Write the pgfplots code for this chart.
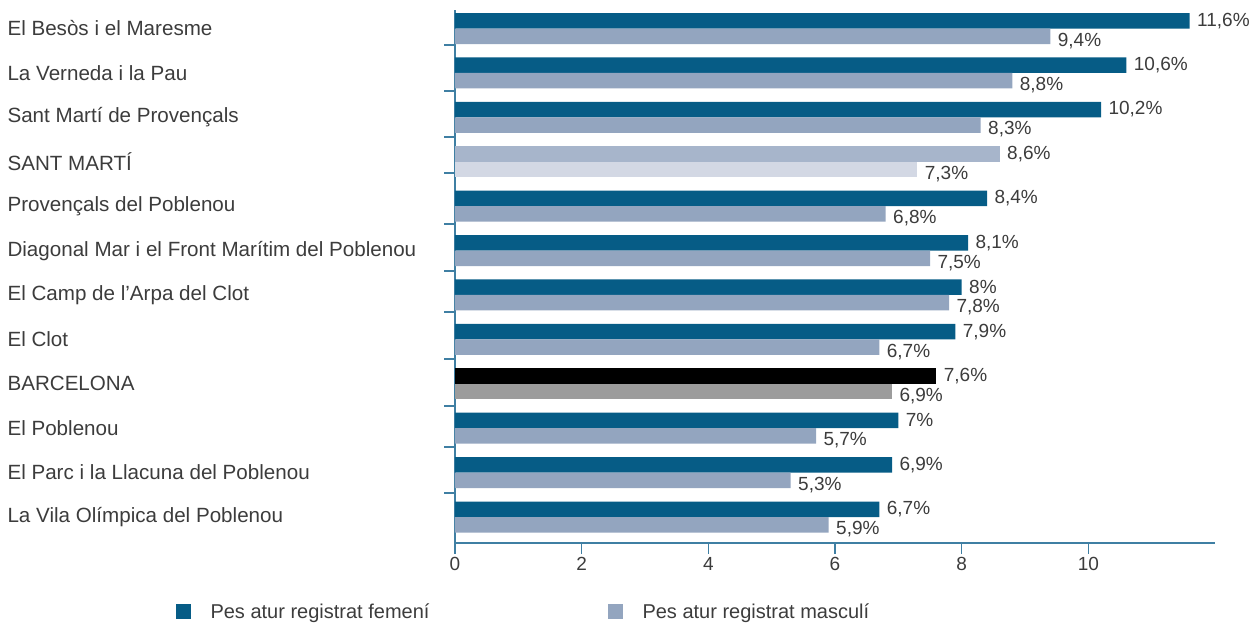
\documentclass[border=0pt]{standalone}
\usepackage{pgfplots}
\pgfplotsset{compat=1.18}
\usepackage{fontspec}
\setmainfont{Liberation Sans}
\definecolor{fem}{HTML}{065C86}
\definecolor{masc}{HTML}{93A5BF}
\definecolor{smfem}{HTML}{A7B5CB}
\definecolor{smmasc}{HTML}{D3D8E4}
\definecolor{bcnmasc}{HTML}{9C9C9C}
\definecolor{axcol}{HTML}{3F7FA3}
\definecolor{txt}{HTML}{3C3C3C}
\begin{document}
\begin{tikzpicture}
\path[use as bounding box] (0,0) rectangle (1258pt,628pt);
\begin{axis}[
  at={(455pt,85pt)}, anchor=south west,
  scale only axis, width=760pt, height=533pt,
  xbar,
  xmin=0, xmax=12, ymin=-0.585, ymax=11.417,
  axis lines*=left,
  axis line style={axcol, line width=1.2pt},
  tick align=outside,
  major tick length=11pt,
  tick style={axcol, line width=1.2pt},
  xtick={0,2,4,6,8,10},
  ytick={10.629,9.593,8.557,7.746,6.597,5.539,4.615,3.557,2.498,1.575,0.539},
  yticklabels={},
  extra y ticks={0,1,2,3,4,5,6,7,8,9,10,11},
  extra y tick labels={La Vila Olímpica del Poblenou, El Parc i la Llacuna del Poblenou, El Poblenou, BARCELONA, El Clot, El Camp de l’Arpa del Clot, Diagonal Mar i el Front Marítim del Poblenou, Provençals del Poblenou, SANT MARTÍ, Sant Martí de Provençals, La Verneda i la Pau, El Besòs i el Maresme},
  extra y tick style={major tick length=0pt, tick style={draw=none}, yticklabel style={anchor=west, xshift=-451pt}},
  ticklabel style={font=\fontsize{20.6}{24}\selectfont, text=txt},
  xticklabel style={font=\fontsize{19}{22}\selectfont, text=txt},
  /pgf/number format/.cd, use comma, 1000 sep={}, assume math mode=true, /pgfplots/.cd,
  bar width=15.5pt,
  point meta=x,
  nodes near coords={\pgfmathprintnumber{\pgfplotspointmeta}\%},
  every node near coord/.append style={font=\fontsize{19}{22}\selectfont, text=txt, anchor=west, xshift=4pt},
  legend columns=2,
  legend style={draw=none, fill=none, at={(-0.368,-0.129)}, anchor=west, inner sep=0pt,
    nodes={inner sep=0pt, font=\fontsize{20}{24}\selectfont, text=txt},
    /tikz/every odd column/.append style={column sep=20pt},
    /tikz/every even column/.append style={column sep=0pt}},
  legend image code/.code={\fill[#1] (0pt,-7.5pt) rectangle (15pt,7.5pt);},
]
\addplot[fill=fem, draw=none, bar shift=7.75pt, every node near coord/.append style={yshift=0pt}] coordinates {
(11.6,11) (10.6,10) (10.2,9) (8.4,7) (8.1,6) (8.0,5) (7.9,4) (7.0,2) (6.9,1) (6.7,0)};
\addlegendentry{\makebox[397pt][l]{Pes atur registrat femení}}
\addplot[fill=masc, draw=none, bar shift=-7.75pt, every node near coord/.append style={yshift=-4.5pt}] coordinates {
(9.4,11) (8.8,10) (8.3,9) (6.8,7) (7.5,6) (7.8,5) (6.7,4) (5.7,2) (5.3,1) (5.9,0)};
\addlegendentry{Pes atur registrat masculí}
\addplot[fill=smfem, draw=none, bar shift=7.75pt, forget plot, every node near coord/.append style={yshift=0pt}] coordinates {(8.6,8)};
\addplot[fill=smmasc, draw=none, bar shift=-7.75pt, forget plot, every node near coord/.append style={yshift=-4.5pt}] coordinates {(7.3,8)};
\addplot[fill=black, draw=none, bar shift=7.75pt, forget plot, every node near coord/.append style={yshift=0pt}] coordinates {(7.6,3)};
\addplot[fill=bcnmasc, draw=none, bar shift=-7.75pt, forget plot, every node near coord/.append style={yshift=-4.5pt}] coordinates {(6.9,3)};
\end{axis}
\end{tikzpicture}
\end{document}
